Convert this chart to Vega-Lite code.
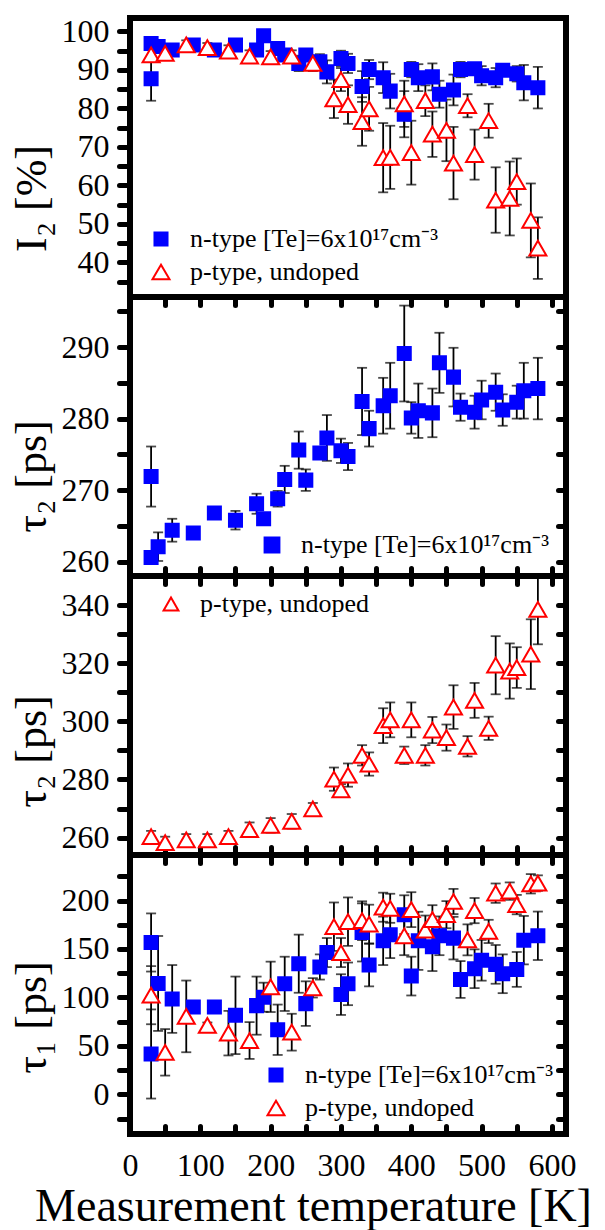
{
  "$schema": "https://vega.github.io/schema/vega-lite/v6.json",
  "background": "white",
  "padding": {"left": 7, "top": 12, "right": 5, "bottom": 2},
  "bounds": "flush",
  "spacing": 0,
  "config": {
    "view": {"stroke": "black", "strokeWidth": 6},
    "axis": {
      "domain": false, "grid": false,
      "labelFont": "Liberation Serif", "labelFontSize": 32, "labelColor": "black",
      "labelFlush": false, "labelOverlap": false, "labelBound": false,
      "titleFont": "Liberation Serif", "titleFontSize": 44, "titleFontWeight": "normal", "titleColor": "black",
      "tickColor": "black", "tickWidth": 5, "tickCap": "round"
    },
    "axisY": {"tickSize": 11, "labelPadding": 10, "titleAngle": 270, "titleBaseline": "alphabetic", "titleAlign": "center", "titleX": -85},
    "axisX": {"tickSize": -8},
    "legend": {
      "orient": "none", "title": null, "padding": 0,
      "labelFont": "Liberation Serif", "labelFontSize": 26, "labelColor": "black", "labelLimit": 500,
      "symbolSize": 220, "symbolStrokeWidth": 2, "rowPadding": 7, "labelOffset": 16
    }
  },
  "resolve": {
    "scale": {"x": "independent", "y": "independent", "fill": "independent", "stroke": "independent", "shape": "independent", "size": "independent"},
    "legend": {"fill": "independent", "stroke": "independent", "shape": "independent", "size": "independent"}
  },
  "datasets": {
    "i2": [
      {"T": 30, "v": 96.9, "e": 1.5, "s": "n"}, {"T": 30, "v": 87.7, "e": 5.7, "s": "n"},
      {"T": 40, "v": 96.1, "e": 1.5, "s": "n"}, {"T": 60, "v": 95.2, "e": 1.0, "s": "n"},
      {"T": 90, "v": 96.5, "e": 0.8, "s": "n"}, {"T": 120, "v": 95.2, "e": 0.8, "s": "n"},
      {"T": 150, "v": 96.5, "e": 0.8, "s": "n"}, {"T": 180, "v": 95.2, "e": 1.0, "s": "n"},
      {"T": 190, "v": 98.9, "e": 1.0, "s": "n"}, {"T": 210, "v": 95.6, "e": 1.0, "s": "n"},
      {"T": 220, "v": 93.9, "e": 1.5, "s": "n"}, {"T": 240, "v": 91.7, "e": 2.0, "s": "n"},
      {"T": 250, "v": 93.9, "e": 1.5, "s": "n"}, {"T": 270, "v": 92.1, "e": 2.0, "s": "n"},
      {"T": 280, "v": 89.5, "e": 3.0, "s": "n"}, {"T": 300, "v": 93.0, "e": 2.0, "s": "n"},
      {"T": 310, "v": 91.7, "e": 2.5, "s": "n"}, {"T": 330, "v": 85.7, "e": 4.0, "s": "n"},
      {"T": 340, "v": 90.1, "e": 2.5, "s": "n"}, {"T": 360, "v": 88.0, "e": 4.0, "s": "n"},
      {"T": 370, "v": 84.5, "e": 4.5, "s": "n"}, {"T": 390, "v": 78.5, "e": 6.0, "s": "n"},
      {"T": 400, "v": 90.1, "e": 2.0, "s": "n"}, {"T": 410, "v": 88.0, "e": 3.5, "s": "n"},
      {"T": 430, "v": 88.2, "e": 3.5, "s": "n"}, {"T": 440, "v": 83.7, "e": 3.5, "s": "n"},
      {"T": 460, "v": 84.8, "e": 4.0, "s": "n"}, {"T": 470, "v": 90.1, "e": 2.0, "s": "n"},
      {"T": 490, "v": 90.3, "e": 1.5, "s": "n"}, {"T": 500, "v": 88.5, "e": 2.5, "s": "n"},
      {"T": 520, "v": 88.0, "e": 2.5, "s": "n"}, {"T": 530, "v": 89.9, "e": 1.5, "s": "n"},
      {"T": 550, "v": 89.0, "e": 2.0, "s": "n"}, {"T": 560, "v": 86.7, "e": 4.6, "s": "n"},
      {"T": 580, "v": 85.4, "e": 5.4, "s": "n"},
      {"T": 30, "v": 93.9, "e": 1.5, "s": "p"}, {"T": 50, "v": 94.3, "e": 1.5, "s": "p"},
      {"T": 80, "v": 96.5, "e": 1.2, "s": "p"}, {"T": 110, "v": 95.8, "e": 1.2, "s": "p"},
      {"T": 140, "v": 94.9, "e": 1.5, "s": "p"}, {"T": 170, "v": 93.6, "e": 1.5, "s": "p"},
      {"T": 200, "v": 93.4, "e": 1.5, "s": "p"}, {"T": 230, "v": 93.6, "e": 1.5, "s": "p"},
      {"T": 260, "v": 91.7, "e": 2.0, "s": "p"}, {"T": 290, "v": 82.5, "e": 5.0, "s": "p"},
      {"T": 300, "v": 87.5, "e": 3.0, "s": "p"}, {"T": 310, "v": 81.0, "e": 5.0, "s": "p"},
      {"T": 330, "v": 76.6, "e": 6.3, "s": "p"}, {"T": 340, "v": 79.9, "e": 5.7, "s": "p"},
      {"T": 360, "v": 67.2, "e": 9.0, "s": "p"}, {"T": 370, "v": 67.3, "e": 8.2, "s": "p"},
      {"T": 390, "v": 81.2, "e": 6.0, "s": "p"}, {"T": 400, "v": 68.5, "e": 8.3, "s": "p"},
      {"T": 420, "v": 82.0, "e": 4.0, "s": "p"}, {"T": 430, "v": 73.3, "e": 5.9, "s": "p"},
      {"T": 450, "v": 74.3, "e": 8.0, "s": "p"}, {"T": 460, "v": 65.8, "e": 9.4, "s": "p"},
      {"T": 480, "v": 80.7, "e": 3.0, "s": "p"}, {"T": 490, "v": 68.0, "e": 6.5, "s": "p"},
      {"T": 510, "v": 76.8, "e": 4.4, "s": "p"}, {"T": 520, "v": 56.2, "e": 8.5, "s": "p"},
      {"T": 540, "v": 56.6, "e": 9.6, "s": "p"}, {"T": 550, "v": 61.0, "e": 6.0, "s": "p"},
      {"T": 570, "v": 50.9, "e": 9.6, "s": "p"}, {"T": 580, "v": 43.7, "e": 8.0, "s": "p"}
    ],
    "t2n": [
      {"T": 30, "v": 271.9, "e": 4.2, "s": "n"}, {"T": 30, "v": 260.6, "e": 0.8, "s": "n"},
      {"T": 40, "v": 262.1, "e": 2.0, "s": "n"}, {"T": 60, "v": 264.4, "e": 1.6, "s": "n"},
      {"T": 90, "v": 264.0, "e": 0.5, "s": "n"}, {"T": 120, "v": 266.8, "e": 0.3, "s": "n"},
      {"T": 150, "v": 265.8, "e": 1.3, "s": "n"}, {"T": 180, "v": 268.1, "e": 1.4, "s": "n"},
      {"T": 190, "v": 266.0, "e": 0.7, "s": "n"}, {"T": 210, "v": 268.8, "e": 1.1, "s": "n"},
      {"T": 220, "v": 271.5, "e": 1.9, "s": "n"}, {"T": 240, "v": 275.6, "e": 2.6, "s": "n"},
      {"T": 250, "v": 271.4, "e": 1.5, "s": "n"}, {"T": 270, "v": 275.2, "e": 0.5, "s": "n"},
      {"T": 280, "v": 277.3, "e": 3.2, "s": "n"}, {"T": 300, "v": 275.5, "e": 1.7, "s": "n"},
      {"T": 310, "v": 274.7, "e": 1.9, "s": "n"}, {"T": 330, "v": 282.4, "e": 4.7, "s": "n"},
      {"T": 340, "v": 278.6, "e": 2.5, "s": "n"}, {"T": 360, "v": 281.8, "e": 3.9, "s": "n"},
      {"T": 370, "v": 283.2, "e": 4.6, "s": "n"}, {"T": 390, "v": 289.1, "e": 6.7, "s": "n"},
      {"T": 400, "v": 280.1, "e": 2.2, "s": "n"}, {"T": 410, "v": 281.1, "e": 3.8, "s": "n"},
      {"T": 430, "v": 280.8, "e": 3.4, "s": "n"}, {"T": 440, "v": 287.8, "e": 4.2, "s": "n"},
      {"T": 460, "v": 285.8, "e": 4.1, "s": "n"}, {"T": 470, "v": 281.6, "e": 1.9, "s": "n"},
      {"T": 490, "v": 280.9, "e": 2.3, "s": "n"}, {"T": 500, "v": 282.6, "e": 2.7, "s": "n"},
      {"T": 520, "v": 283.7, "e": 2.6, "s": "n"}, {"T": 530, "v": 281.2, "e": 2.2, "s": "n"},
      {"T": 550, "v": 282.3, "e": 2.3, "s": "n"}, {"T": 560, "v": 283.9, "e": 3.9, "s": "n"},
      {"T": 580, "v": 284.2, "e": 4.3, "s": "n"}
    ],
    "t2p": [
      {"T": 30, "v": 260.3, "e": 2.0, "s": "p"}, {"T": 50, "v": 258.3, "e": 2.0, "s": "p"},
      {"T": 80, "v": 259.2, "e": 2.0, "s": "p"}, {"T": 110, "v": 259.2, "e": 2.0, "s": "p"},
      {"T": 140, "v": 260.3, "e": 2.0, "s": "p"}, {"T": 170, "v": 262.7, "e": 2.5, "s": "p"},
      {"T": 200, "v": 264.2, "e": 2.5, "s": "p"}, {"T": 230, "v": 265.6, "e": 2.5, "s": "p"},
      {"T": 260, "v": 269.9, "e": 2.0, "s": "p"}, {"T": 290, "v": 280.1, "e": 4.0, "s": "p"},
      {"T": 300, "v": 276.4, "e": 2.0, "s": "p"}, {"T": 310, "v": 281.5, "e": 4.0, "s": "p"},
      {"T": 330, "v": 288.3, "e": 3.5, "s": "p"}, {"T": 340, "v": 285.3, "e": 4.0, "s": "p"},
      {"T": 360, "v": 298.5, "e": 6.0, "s": "p"}, {"T": 370, "v": 300.5, "e": 6.0, "s": "p"},
      {"T": 390, "v": 288.3, "e": 3.0, "s": "p"}, {"T": 400, "v": 300.5, "e": 6.0, "s": "p"},
      {"T": 420, "v": 288.3, "e": 3.5, "s": "p"}, {"T": 430, "v": 297.0, "e": 4.5, "s": "p"},
      {"T": 450, "v": 294.4, "e": 4.5, "s": "p"}, {"T": 460, "v": 304.9, "e": 7.5, "s": "p"},
      {"T": 480, "v": 291.4, "e": 3.5, "s": "p"}, {"T": 490, "v": 307.2, "e": 6.0, "s": "p"},
      {"T": 510, "v": 297.6, "e": 4.0, "s": "p"}, {"T": 520, "v": 319.3, "e": 10.0, "s": "p"},
      {"T": 540, "v": 317.3, "e": 9.5, "s": "p"}, {"T": 550, "v": 318.5, "e": 7.0, "s": "p"},
      {"T": 570, "v": 323.1, "e": 12.0, "s": "p"}, {"T": 580, "v": 338.5, "e": 12.0, "s": "p"}
    ],
    "t1": [
      {"T": 30, "v": 156.7, "e": 30, "s": "n"}, {"T": 30, "v": 41.6, "e": 46, "s": "n"},
      {"T": 40, "v": 114.4, "e": 49, "s": "n"}, {"T": 60, "v": 98.4, "e": 35, "s": "n"},
      {"T": 90, "v": 90.1, "e": 3, "s": "n"}, {"T": 120, "v": 90.1, "e": 3, "s": "n"},
      {"T": 150, "v": 81.5, "e": 40, "s": "n"}, {"T": 180, "v": 91.5, "e": 30, "s": "n"},
      {"T": 190, "v": 100.2, "e": 15, "s": "n"}, {"T": 210, "v": 66.6, "e": 26, "s": "n"},
      {"T": 220, "v": 114.0, "e": 28, "s": "n"}, {"T": 240, "v": 134.8, "e": 30, "s": "n"},
      {"T": 250, "v": 93.6, "e": 23, "s": "n"}, {"T": 270, "v": 131.4, "e": 13, "s": "n"},
      {"T": 280, "v": 146.3, "e": 15, "s": "n"}, {"T": 300, "v": 102.9, "e": 21, "s": "n"},
      {"T": 310, "v": 114.0, "e": 22, "s": "n"}, {"T": 330, "v": 167.1, "e": 30, "s": "n"},
      {"T": 340, "v": 133.4, "e": 22, "s": "n"}, {"T": 360, "v": 158.4, "e": 25, "s": "n"},
      {"T": 370, "v": 164.6, "e": 24, "s": "n"}, {"T": 390, "v": 185.4, "e": 20, "s": "n"},
      {"T": 400, "v": 122.0, "e": 20, "s": "n"}, {"T": 410, "v": 158.4, "e": 30, "s": "n"},
      {"T": 430, "v": 152.2, "e": 25, "s": "n"}, {"T": 440, "v": 163.6, "e": 20, "s": "n"},
      {"T": 460, "v": 161.2, "e": 22, "s": "n"}, {"T": 470, "v": 118.5, "e": 19, "s": "n"},
      {"T": 490, "v": 129.6, "e": 20, "s": "n"}, {"T": 500, "v": 138.3, "e": 21, "s": "n"},
      {"T": 520, "v": 134.1, "e": 20, "s": "n"}, {"T": 530, "v": 124.4, "e": 20, "s": "n"},
      {"T": 550, "v": 128.9, "e": 18, "s": "n"}, {"T": 560, "v": 159.1, "e": 25, "s": "n"},
      {"T": 580, "v": 163.6, "e": 25, "s": "n"},
      {"T": 30, "v": 102.3, "e": 30, "s": "p"}, {"T": 50, "v": 43.3, "e": 24, "s": "p"},
      {"T": 80, "v": 80.4, "e": 37, "s": "p"}, {"T": 110, "v": 71.1, "e": 3, "s": "p"},
      {"T": 140, "v": 63.1, "e": 23, "s": "p"}, {"T": 170, "v": 55.5, "e": 19, "s": "p"},
      {"T": 200, "v": 110.9, "e": 26, "s": "p"}, {"T": 230, "v": 64.1, "e": 19, "s": "p"},
      {"T": 260, "v": 109.9, "e": 10, "s": "p"}, {"T": 290, "v": 173.0, "e": 25, "s": "p"},
      {"T": 300, "v": 146.3, "e": 15, "s": "p"}, {"T": 310, "v": 178.2, "e": 25, "s": "p"},
      {"T": 330, "v": 179.2, "e": 20, "s": "p"}, {"T": 340, "v": 175.7, "e": 20, "s": "p"},
      {"T": 360, "v": 193.1, "e": 15, "s": "p"}, {"T": 370, "v": 192.0, "e": 15, "s": "p"},
      {"T": 390, "v": 163.6, "e": 20, "s": "p"}, {"T": 400, "v": 190.6, "e": 18, "s": "p"},
      {"T": 420, "v": 169.5, "e": 15, "s": "p"}, {"T": 430, "v": 180.2, "e": 15, "s": "p"},
      {"T": 450, "v": 185.4, "e": 14, "s": "p"}, {"T": 460, "v": 199.0, "e": 13, "s": "p"},
      {"T": 480, "v": 159.4, "e": 16, "s": "p"}, {"T": 490, "v": 189.6, "e": 13, "s": "p"},
      {"T": 510, "v": 168.1, "e": 12, "s": "p"}, {"T": 520, "v": 207.6, "e": 10, "s": "p"},
      {"T": 540, "v": 209.7, "e": 9, "s": "p"}, {"T": 550, "v": 195.8, "e": 10, "s": "p"},
      {"T": 570, "v": 217.3, "e": 10, "s": "p"}, {"T": 580, "v": 218.0, "e": 8, "s": "p"}
    ]
  },
  "vconcat": [
    {
      "width": 436, "height": 279,
      "data": {"name": "i2"},
      "encoding": {
        "x": {"field": "T", "type": "quantitative", "scale": {"domain": [0, 620], "nice": false, "zero": false},
              "axis": {"values": [50, 100, 150, 200, 250, 300, 350, 400, 450, 500, 550, 600], "labels": false, "ticks": false, "title": null}},
        "y": {"field": "v", "type": "quantitative", "scale": {"domain": [31, 103.5], "nice": false, "zero": false},
              "axis": {"values": [35, 40, 45, 50, 55, 60, 65, 70, 75, 80, 85, 90, 95, 100],
                       "labelExpr": "datum.value % 10 === 0 ? datum.label : ''", "title": "I₂ [%]", "titleY": 180}}
      },
      "layer": [
        {"mark": {"type": "errorbar", "color": "black", "clip": true, "ticks": {"size": 10, "thickness": 1.8, "color": "black"}, "rule": {"strokeWidth": 1.8, "color": "black"}},
         "encoding": {"yError": {"field": "e"}}},
        {"mark": {"type": "point", "strokeWidth": 2, "opacity": 1, "clip": true},
         "encoding": {
           "fill": {"field": "s", "type": "nominal", "scale": {"domain": ["n", "p"], "range": ["#0000ff", "#ffffff"]},
                    "legend": {"legendX": 18, "legendY": 208, "labelExpr": "datum.value === 'n' ? 'n-type [Te]=6x10¹⁷cm⁻³' : 'p-type, undoped'"}},
           "stroke": {"field": "s", "type": "nominal", "scale": {"domain": ["n", "p"], "range": ["#0000ff", "#ff0000"]},
                    "legend": {"legendX": 18, "legendY": 208, "labelExpr": "datum.value === 'n' ? 'n-type [Te]=6x10¹⁷cm⁻³' : 'p-type, undoped'"}},
           "shape": {"field": "s", "type": "nominal", "scale": {"domain": ["n", "p"], "range": ["square", "triangle-up"]},
                    "legend": {"legendX": 18, "legendY": 208, "labelExpr": "datum.value === 'n' ? 'n-type [Te]=6x10¹⁷cm⁻³' : 'p-type, undoped'"}},
           "size": {"field": "s", "type": "nominal", "scale": {"domain": ["n", "p"], "range": [170, 290]},
                    "legend": {"legendX": 18, "legendY": 208, "labelExpr": "datum.value === 'n' ? 'n-type [Te]=6x10¹⁷cm⁻³' : 'p-type, undoped'"}}
         }}
      ]
    },
    {
      "width": 436, "height": 279,
      "data": {"name": "t2n"},
      "resolve": {"axis": {"x": "independent", "y": "independent"}},
      "layer": [
        {
          "encoding": {
            "x": {"field": "T", "type": "quantitative", "scale": {"domain": [0, 620], "nice": false, "zero": false},
                  "axis": {"values": [50, 100, 150, 200, 250, 300, 350, 400, 450, 500, 550, 600], "labels": false, "title": null}},
            "y": {"field": "v", "type": "quantitative", "scale": {"domain": [258, 297], "nice": false, "zero": false},
                  "axis": {"values": [260, 265, 270, 275, 280, 285, 290, 295],
                           "labelExpr": "datum.value % 10 === 0 ? datum.label : ''", "title": "τ₂ [ps]", "titleY": 179}}
          },
          "layer": [
            {"mark": {"type": "errorbar", "color": "black", "clip": true, "ticks": {"size": 10, "thickness": 1.8, "color": "black"}, "rule": {"strokeWidth": 1.8, "color": "black"}},
             "encoding": {"yError": {"field": "e"}}},
            {"mark": {"type": "point", "strokeWidth": 2, "opacity": 1, "clip": true, "size": 170},
             "encoding": {
               "fill": {"field": "s", "type": "nominal", "scale": {"domain": ["n"], "range": ["#0000ff"]},
                        "legend": {"legendX": 129, "legendY": 235, "labelExpr": "'n-type [Te]=6x10¹⁷cm⁻³'"}},
               "stroke": {"field": "s", "type": "nominal", "scale": {"domain": ["n"], "range": ["#0000ff"]},
                        "legend": {"legendX": 129, "legendY": 235, "labelExpr": "'n-type [Te]=6x10¹⁷cm⁻³'"}},
               "shape": {"field": "s", "type": "nominal", "scale": {"domain": ["n"], "range": ["square"]},
                        "legend": {"legendX": 129, "legendY": 235, "labelExpr": "'n-type [Te]=6x10¹⁷cm⁻³'"}}
             }}
          ]
        },
        {
          "mark": {"type": "point", "opacity": 0},
          "encoding": {
            "x": {"field": "T", "type": "quantitative", "scale": {"domain": [0, 620], "nice": false, "zero": false},
                  "axis": {"orient": "top", "values": [50, 100, 150, 200, 250, 300, 350, 400, 450, 500, 550, 600], "labels": false, "title": null, "tickSize": -8}},
            "y": {"field": "v", "type": "quantitative", "scale": {"domain": [258, 297], "nice": false, "zero": false},
                  "axis": {"orient": "right", "values": [260, 265, 270, 275, 280, 285, 290, 295], "labels": false, "title": null, "tickSize": -8}}
          }
        }
      ]
    },
    {
      "width": 436, "height": 279,
      "data": {"name": "t2p"},
      "resolve": {"axis": {"x": "independent", "y": "independent"}},
      "layer": [
        {
          "encoding": {
            "x": {"field": "T", "type": "quantitative", "scale": {"domain": [0, 620], "nice": false, "zero": false},
                  "axis": {"values": [50, 100, 150, 200, 250, 300, 350, 400, 450, 500, 550, 600], "labels": false, "title": null}},
            "y": {"field": "v", "type": "quantitative", "scale": {"domain": [254, 350], "nice": false, "zero": false},
                  "axis": {"values": [260, 270, 280, 290, 300, 310, 320, 330, 340],
                           "labelExpr": "datum.value % 20 === 0 ? datum.label : ''", "title": "τ₂ [ps]", "titleY": 175}}
          },
          "layer": [
            {"mark": {"type": "errorbar", "color": "black", "clip": true, "ticks": {"size": 10, "thickness": 1.8, "color": "black"}, "rule": {"strokeWidth": 1.8, "color": "black"}},
             "encoding": {"yError": {"field": "e"}}},
            {"mark": {"type": "point", "strokeWidth": 2, "opacity": 1, "clip": true, "size": 290},
             "encoding": {
               "fill": {"field": "s", "type": "nominal", "scale": {"domain": ["p"], "range": ["#ffffff"]},
                        "legend": {"legendX": 28, "legendY": 15, "labelExpr": "'p-type, undoped'"}},
               "stroke": {"field": "s", "type": "nominal", "scale": {"domain": ["p"], "range": ["#ff0000"]},
                        "legend": {"legendX": 28, "legendY": 15, "labelExpr": "'p-type, undoped'"}},
               "shape": {"field": "s", "type": "nominal", "scale": {"domain": ["p"], "range": ["triangle-up"]},
                        "legend": {"legendX": 28, "legendY": 15, "labelExpr": "'p-type, undoped'"}}
             }}
          ]
        },
        {
          "mark": {"type": "point", "opacity": 0},
          "encoding": {
            "x": {"field": "T", "type": "quantitative", "scale": {"domain": [0, 620], "nice": false, "zero": false},
                  "axis": {"orient": "top", "values": [50, 100, 150, 200, 250, 300, 350, 400, 450, 500, 550, 600], "labels": false, "title": null, "tickSize": -8}},
            "y": {"field": "v", "type": "quantitative", "scale": {"domain": [254, 350], "nice": false, "zero": false},
                  "axis": {"orient": "right", "values": [260, 270, 280, 290, 300, 310, 320, 330, 340], "labels": false, "title": null, "tickSize": -8}}
          }
        }
      ]
    },
    {
      "width": 436, "height": 279,
      "data": {"name": "t1"},
      "resolve": {"axis": {"x": "independent", "y": "independent"}},
      "layer": [
        {
          "encoding": {
            "x": {"field": "T", "type": "quantitative", "scale": {"domain": [0, 620], "nice": false, "zero": false},
                  "axis": {"values": [0, 50, 100, 150, 200, 250, 300, 350, 400, 450, 500, 550, 600],
                           "labelExpr": "datum.value % 100 === 0 ? datum.label : ''", "labelPadding": 24,
                           "title": "Measurement temperature [K]", "titleFontSize": 46, "titleX": 183, "titleY": 86,
                           "titleAlign": "center", "titleBaseline": "alphabetic"}},
            "y": {"field": "v", "type": "quantitative", "scale": {"domain": [-41, 247], "nice": false, "zero": false},
                  "axis": {"values": [-25, 0, 25, 50, 75, 100, 125, 150, 175, 200, 225],
                           "labelExpr": "datum.value % 50 === 0 ? datum.label : ''", "title": "τ₁ [ps]", "titleY": 162}}
          },
          "layer": [
            {"mark": {"type": "errorbar", "color": "black", "clip": true, "ticks": {"size": 10, "thickness": 1.8, "color": "black"}, "rule": {"strokeWidth": 1.8, "color": "black"}},
             "encoding": {"yError": {"field": "e"}}},
            {"mark": {"type": "point", "strokeWidth": 2, "opacity": 1, "clip": true},
             "encoding": {
               "fill": {"field": "s", "type": "nominal", "scale": {"domain": ["n", "p"], "range": ["#0000ff", "#ffffff"]},
                        "legend": {"legendX": 133, "legendY": 207, "labelExpr": "datum.value === 'n' ? 'n-type [Te]=6x10¹⁷cm⁻³' : 'p-type, undoped'"}},
               "stroke": {"field": "s", "type": "nominal", "scale": {"domain": ["n", "p"], "range": ["#0000ff", "#ff0000"]},
                        "legend": {"legendX": 133, "legendY": 207, "labelExpr": "datum.value === 'n' ? 'n-type [Te]=6x10¹⁷cm⁻³' : 'p-type, undoped'"}},
               "shape": {"field": "s", "type": "nominal", "scale": {"domain": ["n", "p"], "range": ["square", "triangle-up"]},
                        "legend": {"legendX": 133, "legendY": 207, "labelExpr": "datum.value === 'n' ? 'n-type [Te]=6x10¹⁷cm⁻³' : 'p-type, undoped'"}},
               "size": {"field": "s", "type": "nominal", "scale": {"domain": ["n", "p"], "range": [170, 290]},
                        "legend": {"legendX": 133, "legendY": 207, "labelExpr": "datum.value === 'n' ? 'n-type [Te]=6x10¹⁷cm⁻³' : 'p-type, undoped'"}}
             }}
          ]
        },
        {
          "mark": {"type": "point", "opacity": 0},
          "encoding": {
            "x": {"field": "T", "type": "quantitative", "scale": {"domain": [0, 620], "nice": false, "zero": false},
                  "axis": {"orient": "top", "values": [50, 100, 150, 200, 250, 300, 350, 400, 450, 500, 550, 600], "labels": false, "title": null, "tickSize": -8}},
            "y": {"field": "v", "type": "quantitative", "scale": {"domain": [-41, 247], "nice": false, "zero": false},
                  "axis": {"orient": "right", "values": [-25, 0, 25, 50, 75, 100, 125, 150, 175, 200, 225], "labels": false, "title": null, "tickSize": -8}}
          }
        }
      ]
    }
  ]
}
